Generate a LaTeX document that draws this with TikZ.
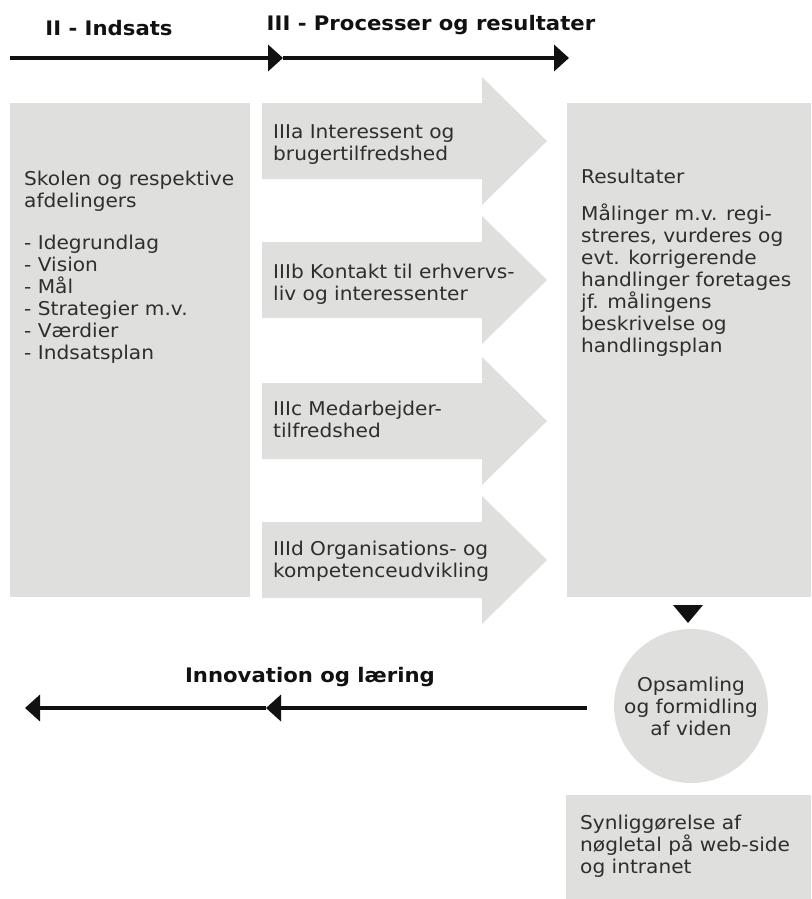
\documentclass[tikz,border=0pt]{standalone}
\usepackage{fontspec}
\setmainfont{DejaVu Sans}[FakeStretch=1.06]
\usetikzlibrary{arrows.meta,positioning}
\definecolor{panel}{HTML}{DFDFDD}
\definecolor{ink}{HTML}{111111}
\definecolor{txt}{HTML}{2E2E2E}

\begin{document}
\begin{tikzpicture}[x=1pt,y=-1pt,>={Triangle[length=15pt,width=26pt]},
    box/.style={fill=panel},
    body/.style={font=\fontsize{19}{22}\selectfont,text=txt,align=left,
      anchor=north west,inner sep=0pt},
    headline/.style={font=\bfseries\fontsize{20}{22}\selectfont,text=ink,inner sep=0pt},
    timeline/.style={line width=4.5pt,ink}]

  \useasboundingbox (0,0) rectangle (811,899);

  % grey panels
  \fill[box] (10,103) rectangle (250,597);
  \fill[box] (567,103) rectangle (811,597);
  \fill[box] (566,795) rectangle (811,899);

  % process arrows III a-d
  \foreach \cy in {141,280,421,560}{
    \fill[box] (262,\cy-38) -- (482,\cy-38) -- (482,\cy-64) -- (547,\cy)
      -- (482,\cy+64) -- (482,\cy+38) -- (262,\cy+38) -- cycle;
  }

  % texts in panels
  \node[body] (indsats) at (24,171)
    {Skolen og respektive\\afdelingers\\[20pt]- Idegrundlag\\- Vision\\- Mål\\
     - Strategier m.v.\\- Værdier\\- Indsatsplan};
  \node[body] (intA) at (273,124) {IIIa Interessent og\\brugertilfredshed};
  \node[body] (intB) at (273,264) {IIIb Kontakt til erhvervs-\\liv og interessenter};
  \node[body] (intC) at (273,401) {IIIc Medarbejder-\\tilfredshed};
  \node[body] (intD) at (273,541) {IIId Organisations- og\\kompetenceudvikling};
  \node[body] (result) at (581,169)
    {Resultater\\[15pt]Målinger m.v. regi-\\streres, vurderes og\\evt. korrigerende\\
     handlinger foretages\\jf. målingens\\beskrivelse og\\handlingsplan};
  \node[body] (synlig) at (580,815)
    {Synliggørelse af\\nøgletal på web-side\\og intranet};

  % knowledge circle
  \fill[ink] (673,605) -- (703,605) -- (688,623) -- cycle;
  \fill[box] (691,706) circle (77);
  \node[body,anchor=center,align=center] (viden) at (691,706)
    {Opsamling\\og formidling\\af viden};

  % time lines
  \coordinate (topA) at (10,58);
  \coordinate (topB) at (283,58);
  \coordinate (topC) at (569,58);
  \draw[timeline,->] (topA) -- (topB);
  \draw[timeline,->] (topB) -- (topC);
  \node[headline] (hIndsats) at (109,28) {II - Indsats};
  \node[headline] (hProces) at (431,25) {III - Processer og resultater};

  \coordinate (botA) at (587,708);
  \coordinate (botB) at (266,708);
  \coordinate (botC) at (25,708);
  \draw[timeline,->] (botA) -- (botB);
  \draw[timeline,->] (botB) -- (botC);
  \node[headline] (hLearn) at (310,677) {Innovation og læring};
\end{tikzpicture}
\end{document}
